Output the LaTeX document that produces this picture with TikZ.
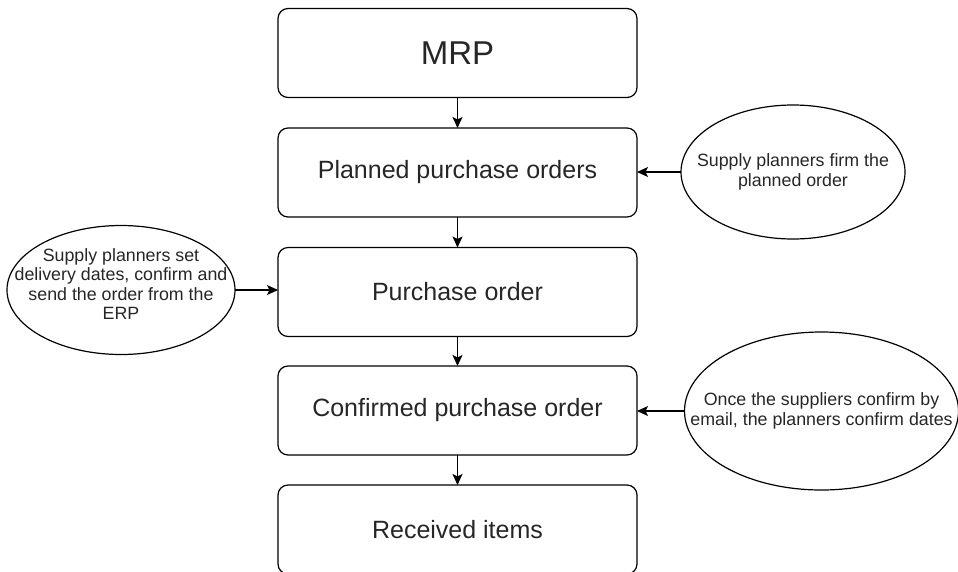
\documentclass[tikz,border=0pt]{standalone}
\usepackage{fontspec}
\setmainfont{Liberation Sans}
\usepackage{tikz}
\usetikzlibrary{shapes.geometric,arrows.meta}

\begin{document}
\begin{tikzpicture}[x=1pt,y=-1pt,every node/.style={draw,outer sep=0pt,line width=1.2pt,text=black!85}]
\tikzstyle{box}=[rounded corners=10pt,minimum width=359pt,minimum height=89pt,font=\fontsize{25}{29}\selectfont]
\tikzstyle{ell}=[ellipse,inner sep=-40pt,align=center,font=\fontsize{17.8}{19.5}\selectfont]
\tikzstyle{arr}=[line width=1.2pt,-{Stealth[length=11pt,width=10pt,inset=2.5pt]}]

\useasboundingbox (0,0) rectangle (958,571);

\node (mrp) [box,font=\fontsize{33}{36}\selectfont] at (457.5,53) {MRP};
\node (planned) [box] at (457.5,172.5) {Planned purchase orders};
\node (po) [box] at (457.5,292) {Purchase order};
\node (confirmed) [box] at (457.5,410.5) {Confirmed purchase order};
\node (received) [box] at (457.5,529.5) {Received items};

\node (firm_note) [ell,minimum width=224pt,minimum height=134pt] at (793,172) {Supply planners firm the\\planned order};
\node (send_note) [ell,minimum width=228pt,minimum height=129pt] at (121,290) {Supply planners set\\delivery dates, confirm and\\send the order from the\\ERP\\[-7.5pt]};
\node (email_note) [ell,minimum width=274pt,minimum height=158pt] at (821.5,411) {Once the suppliers confirm by\\email, the planners confirm dates};

\draw [arr] (mrp) -- (planned);
\draw [arr] (planned) -- (po);
\draw [arr] (po) -- (confirmed);
\draw [arr] (confirmed) -- (received);
\draw [arr] (firm_note.west) -- (firm_note.west -| planned.east);
\draw [arr] (send_note.east) -- (send_note.east -| po.west);
\draw [arr] (email_note.west) -- (email_note.west -| confirmed.east);

\end{tikzpicture}
\end{document}
